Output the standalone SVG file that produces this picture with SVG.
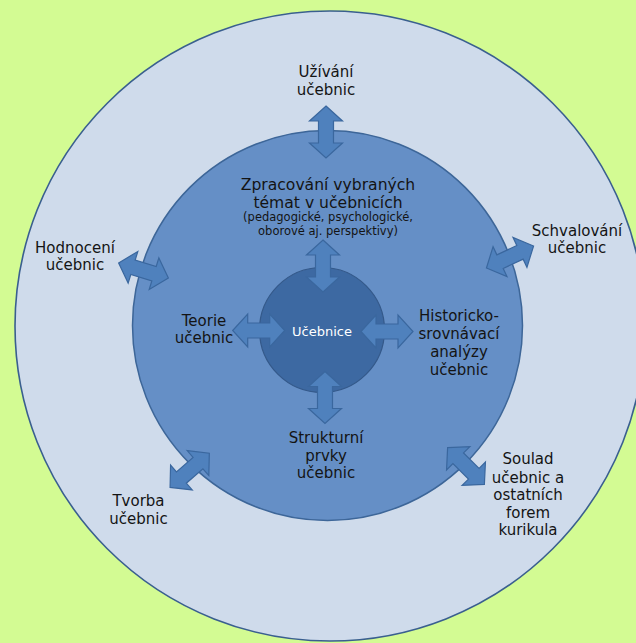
<svg xmlns="http://www.w3.org/2000/svg" xmlns:xlink="http://www.w3.org/1999/xlink" width="636" height="643" viewBox="0 0 636 643">
<style>
.lbl{font-family:"DejaVu Sans",Verdana,sans-serif;font-size:15px;fill:#141414;text-anchor:middle}
.sub{font-family:"DejaVu Sans",Verdana,sans-serif;font-size:11.5px;fill:#141414;text-anchor:middle}
.arr{fill:#4f81bd;stroke:#3a679e;stroke-width:1.2;stroke-linejoin:miter}
</style>
<defs>
<path id="dbl" d="M -26 0 L -11 -16.5 L -11 -7.5 L 11 -7.5 L 11 -16.5 L 26 0 L 11 16.5 L 11 7.5 L -11 7.5 L -11 16.5 Z"/>
</defs>
<rect width="636" height="643" fill="#d3fb93"/>
<g id="outer-ring">
<circle cx="330" cy="326" r="315" fill="#cfdbeb" stroke="#3a5f8f" stroke-width="1.6"/>
</g>
<g id="middle-ring">
<circle cx="327.5" cy="325.5" r="195" fill="#658fc6" stroke="#3d6698" stroke-width="1.5"/>
</g>
<g id="ucebnice">
<circle cx="322" cy="330" r="62.5" fill="#3d69a2" stroke="#34598a" stroke-width="1.2"/>
<text x="322" y="336" font-family="DejaVu Sans,Verdana,sans-serif" font-size="13" fill="#ffffff" text-anchor="middle">Učebnice</text>
</g>
<g id="connectors" class="arr">
<use xlink:href="#dbl" transform="translate(326 132) rotate(90)"/>
<use xlink:href="#dbl" transform="translate(323 266) rotate(90)"/>
<use xlink:href="#dbl" transform="translate(325 397.5) rotate(90)"/>
<use xlink:href="#dbl" transform="translate(258.7 330.5)"/>
<use xlink:href="#dbl" transform="translate(387 331.5)"/>
<use xlink:href="#dbl" transform="translate(143.5 270.5) rotate(17)"/>
<use xlink:href="#dbl" transform="translate(510 257) rotate(-25)"/>
<use xlink:href="#dbl" transform="translate(466 466) rotate(45)"/>
<use xlink:href="#dbl" transform="translate(189.7 470.3) rotate(-41)"/>
</g>
<g id="uzivani">
<text class="lbl" x="326" y="77">Užívání</text>
<text class="lbl" x="326" y="95">učebnic</text>
</g>
<g id="zpracovani">
<text class="lbl" x="328" y="190" style="font-size:15.6px">Zpracování vybraných</text>
<text class="lbl" x="328" y="207.5" style="font-size:15.6px">témat v učebnicích</text>
<text class="sub" x="328" y="221">(pedagogické, psychologické,</text>
<text class="sub" x="328" y="234.5">oborové aj. perspektivy)</text>
</g>
<g id="teorie">
<text class="lbl" x="204" y="326">Teorie</text>
<text class="lbl" x="204" y="343">učebnic</text>
</g>
<g id="historicko">
<text class="lbl" x="459" y="321">Historicko-</text>
<text class="lbl" x="459" y="339">srovnávací</text>
<text class="lbl" x="459" y="357">analýzy</text>
<text class="lbl" x="459" y="375">učebnic</text>
</g>
<g id="strukturni">
<text class="lbl" x="326" y="443">Strukturní</text>
<text class="lbl" x="326" y="460.5">prvky</text>
<text class="lbl" x="326" y="477.5">učebnic</text>
</g>
<g id="hodnoceni">
<text class="lbl" x="75" y="253">Hodnocení</text>
<text class="lbl" x="75" y="270">učebnic</text>
</g>
<g id="schvalovani">
<text class="lbl" x="577" y="236">Schvalování</text>
<text class="lbl" x="577" y="253">učebnic</text>
</g>
<g id="soulad">
<text class="lbl" x="528" y="464">Soulad</text>
<text class="lbl" x="528" y="482.5">učebnic a</text>
<text class="lbl" x="528" y="500">ostatních</text>
<text class="lbl" x="528" y="517.5">forem</text>
<text class="lbl" x="528" y="535">kurikula</text>
</g>
<g id="tvorba">
<text class="lbl" x="138.5" y="506">Tvorba</text>
<text class="lbl" x="138.5" y="523.5">učebnic</text>
</g>
</svg>
